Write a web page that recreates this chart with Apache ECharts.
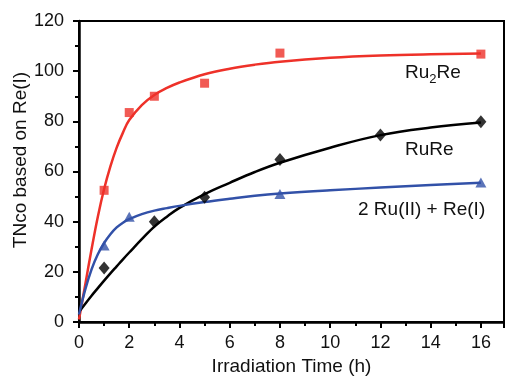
<!DOCTYPE html>
<html><head><meta charset="utf-8">
<script src="https://cdn.jsdelivr.net/npm/echarts@6/dist/echarts.min.js"></script>
<style>html,body{margin:0;padding:0;background:#fff}#c{width:505px;height:381px}</style>
</head><body><div id="c"></div>
<script>
// measured points
const ru2reT = [1, 2, 3, 5, 8, 16];
const ru2reV = [52.5, 83.5, 90, 95.2, 107.2, 106.8];
const ruReT = [1, 3, 5, 8, 12, 16];
const ruReV = [21.5, 40, 49.7, 64.8, 74.6, 79.8];
const mixT = [1, 2, 8, 16];
const mixV = [30.5, 42, 51, 55.6];
// fitted curves
const fitT = [0, 0.25, 0.5, 0.75, 1, 1.25, 1.5, 1.75, 2, 2.5, 3, 3.5, 4, 5, 6, 7, 8, 10, 12, 14, 16];
const ru2reFit = [1, 15, 29, 42, 53, 62, 69.5, 75.5, 80.5, 86.5, 90.5, 93.3, 95.5, 98.8, 101, 102.6, 103.8, 105.3, 106.2, 106.7, 107];
const ruReFit = [4, 7.3, 10.5, 13.5, 16.5, 19.4, 22.2, 25, 27.7, 33, 38, 42, 45.5, 51, 55.5, 59.8, 63.5, 69.5, 74.5, 77.5, 79.5];
const mixFit = [3, 13, 21, 27, 31.5, 35, 37.7, 39.6, 41, 43, 44.4, 45.4, 46.3, 47.8, 49.1, 50.3, 51.2, 52.5, 53.6, 54.6, 55.5];
const xTicks = [0, 2, 4, 6, 8, 10, 12, 14, 16];
const yTicks = [0, 20, 40, 60, 80, 100, 120];

const RED = '#ee3129', BLUE = '#3251a8', BLACK = '#000';
const zip = (a, b) => a.map((v, i) => [v, b[i]]);
const FONT = '"Liberation Sans", Arial, sans-serif';

const chart = echarts.init(document.getElementById('c'), null, {renderer: 'canvas'});
const axisCommon = {
  axisLine: {show: true, lineStyle: {color: '#000', width: 2.5}},
  axisTick: {show: true, inside: false, length: 6, lineStyle: {color: '#000', width: 2}},
  minorTick: {show: true, splitNumber: 2, length: 4, lineStyle: {color: '#000', width: 2}},
  splitLine: {show: false},
  axisLabel: {color: '#111', fontSize: 18, fontFamily: FONT}
};
function lineS(data, color) {
  return {type: 'line', data: data, smooth: 0.4, showSymbol: false,
    symbol: 'none', lineStyle: {color: color, width: 2.5}, z: 2, silent: true};
}
function scat(data, color, symbol, size) {
  return {type: 'scatter', data: data, symbol: symbol, symbolSize: size,
    itemStyle: {color: color}, z: 3, silent: true};
}
chart.setOption({
  animation: false,
  backgroundColor: '#fff',
  grid: {left: 79, right: 1, top: 21, bottom: 55, show: true, borderColor: '#000', borderWidth: 2},
  xAxis: Object.assign({}, axisCommon, {
    type: 'value', min: 0, max: 16.92, interval: 2,
    axisLabel: Object.assign({}, axisCommon.axisLabel, {margin: 12, showMaxLabel: false,
      formatter: v => xTicks.includes(v) ? String(v) : ''}),
    name: 'Irradiation Time (h)', nameLocation: 'middle', nameGap: 35,
    nameTextStyle: {color: '#111', fontSize: 19, fontFamily: FONT}
  }),
  yAxis: Object.assign({}, axisCommon, {
    type: 'value', min: 0, max: 120, interval: 20,
    axisLabel: Object.assign({}, axisCommon.axisLabel, {margin: 15,
      formatter: v => yTicks.includes(v) ? String(v) : ''})
  }),
  graphic: [
    {type: 'text', x: 21, y: 160, rotation: Math.PI / 2,
      style: {text: 'TNco based on Re(I)', fill: '#111', font: '19px ' + FONT, align: 'center', verticalAlign: 'middle'}},
    {type: 'text', x: 405, y: 73,
      style: {text: '{a|Ru}{s|2}{a|Re}', verticalAlign: 'middle', align: 'left',
        rich: {a: {fontSize: 19, fontFamily: FONT, fill: '#111', verticalAlign: 'middle'},
               s: {fontSize: 13, fontFamily: FONT, fill: '#111', padding: [12, 0, 0, 0], verticalAlign: 'middle'}}}},
    {type: 'text', x: 405, y: 150,
      style: {text: 'RuRe', fill: '#111', font: '19px ' + FONT, align: 'left', verticalAlign: 'middle'}},
    {type: 'text', x: 358, y: 210,
      style: {text: '2 Ru(II) + Re(I)', fill: '#111', font: '19px ' + FONT, align: 'left', verticalAlign: 'middle'}}
  ],
  series: [
    lineS(zip(fitT, ru2reFit), RED),
    lineS(zip(fitT, ruReFit), BLACK),
    lineS(zip(fitT, mixFit), BLUE),
    scat(zip(ru2reT, ru2reV), RED, 'rect', 9),
    scat(zip(ruReT, ruReV), BLACK, 'diamond', [11, 13]),
    scat(zip(mixT, mixV), BLUE, 'triangle', [11, 10])
  ]
});
</script></body></html>
